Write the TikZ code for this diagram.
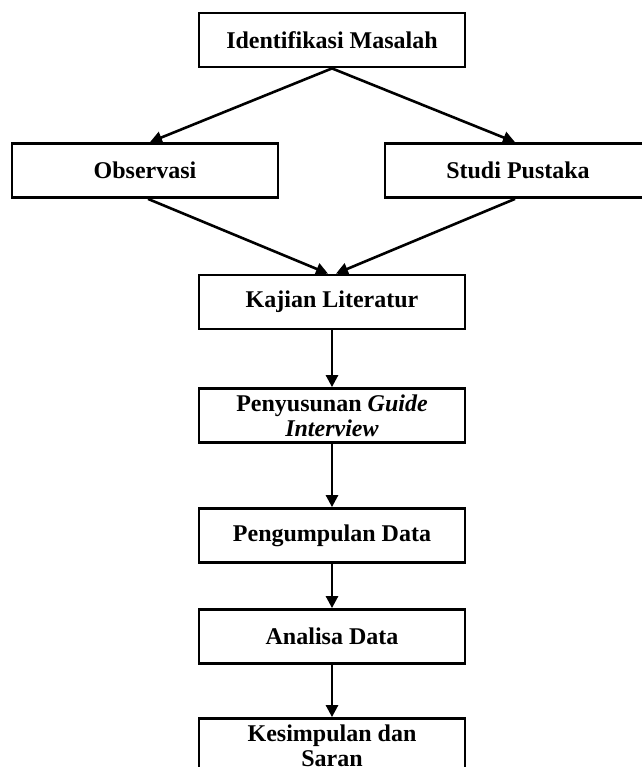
\documentclass[tikz,border=0pt]{standalone}
\usepackage{fontspec}
\setmainfont{Liberation Serif}
\usetikzlibrary{arrows.meta}
\tikzset{
  kotak/.style={draw, line width=1.4pt, minimum width=133pt, minimum height=27pt,
    inner sep=1pt, align=center, font=\fontsize{12}{12.5}\selectfont\bfseries},
  panah/.style={line width=1.3pt, -{Triangle[length=6pt,width=6pt]}}
}
\begin{document}
\begin{tikzpicture}[x=0.5pt,y=-0.5pt]
    \useasboundingbox (0,0) rectangle (642,767);
    \clip (0,0) rectangle (642,767);
    % Kotak
    \node[kotak] (ident) at (332,40) {Identifikasi Masalah};
    \node[kotak] (obs) at (145,170.5) {Observasi};
    \node[kotak] (studi) at (518,170.5) {Studi Pustaka};
    \node[kotak] (kajian) at (332,302) {Kajian Literatur};
    \node[kotak] (guide) at (332,415.5) {Penyusunan \textit{Guide}\\\textit{Interview}};
    \node[kotak] (kumpul) at (332,535.5) {Pengumpulan Data};
    \node[kotak] (analisa) at (332,636.5) {Analisa Data};
    \node[kotak] (simpul) at (332,745.5) {Kesimpulan dan\\Saran};
    % Panah
    \draw[panah] (ident.south) -- ([xshift=2.5pt]obs.north);
    \draw[panah] (ident.south) -- ([xshift=-1.5pt]studi.north);
    \draw[panah] ([xshift=1.5pt]obs.south) -- ([xshift=-2pt]kajian.north);
    \draw[panah] ([xshift=-1.5pt]studi.south) -- ([xshift=2pt]kajian.north);
    \draw[panah] (kajian.south) -- (guide.north);
    \draw[panah] (guide.south) -- (kumpul.north);
    \draw[panah] (kumpul.south) -- (analisa.north);
    \draw[panah] (analisa.south) -- (simpul.north);
\end{tikzpicture}
\end{document}
